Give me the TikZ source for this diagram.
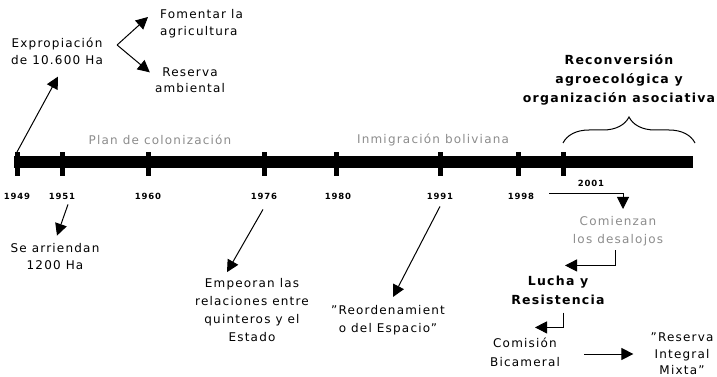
\documentclass[tikz,border=0pt]{standalone}
\usepackage{fontspec}
\setmainfont{DejaVu Sans}[LetterSpace=10]
\usetikzlibrary{arrows.meta,decorations.pathreplacing}

\begin{document}
\begin{tikzpicture}[x=1pt,y=-1pt,
    >={Triangle[length=12pt,width=12pt]},
    txt/.style={align=center,inner sep=0pt,font=\fontsize{12}{18}\selectfont},
    negr/.style={txt,font=\fontsize{12.5}{19}\selectfont\bfseries},
    gris/.style={txt,text=black!45},
    anio/.style={inner sep=0pt,font=\fontsize{8.5}{8.5}\selectfont\bfseries},
    flecha/.style={->,line width=1pt}]
    \useasboundingbox (0,0) rectangle (717,377);
    % linea de tiempo
    \draw[line width=12pt] (14,162)--(693,162);
    \foreach \x/\a in {17/1949,62/1951,148/1960,264/1976,336/1980,440/1991,518/1998,563/2001}
    \draw[line width=5pt] (\x,152) coordinate (t\a)--(\x,176);
    \foreach \x/\a in {17/1949,62/1951,148/1960,264/1976,338/1980,440/1991,521/1998}
    \node[anio] (y\a) at (\x,196) {\a};
    \node[anio] (y2001) at (591,183) {2001};
    \draw[decorate,decoration={brace,amplitude=26pt},line width=1pt] (563,143)--(695,143);

    \node[gris] (plan) at (160,140) {Plan de colonización};
    \node[gris] (inmig) at (433,140) {Inmigración boliviana};
    \node[negr] (recon) at (619,80) {Reconversión\\agroecológica y\\organización asociativa};

    \node[txt,font=\fontsize{12}{17}\selectfont] (expro) at (57,51) {Expropiación\\de 10.600 Ha};
    \node[txt,font=\fontsize{12}{17}\selectfont,align=left,anchor=west] (fomen) at (160,24) {Fomentar la\\agricultura};
    \node[txt,font=\fontsize{12}{16}\selectfont] (ramb) at (190,80) {Reserva\\ambiental};
    \node[txt,font=\fontsize{12}{17}\selectfont] (arrien) at (55,257) {Se arriendan\\1200 Ha};
    \node[txt] (empeo) at (252,310) {Empeoran las\\relaciones entre\\quinteros y el\\Estado};
    \node[txt] (reord) at (388,320) {"Reordenamient\\o del Espacio"};
    \node[gris] (desal) at (618,231) {Comienzan\\los desalojos};
    \node[negr] (lucha) at (558,290) {Lucha y\\Resistencia};
    \node[txt,font=\fontsize{12}{19}\selectfont] (comis) at (525,352) {Comisión\\Bicameral};
    \node[txt,font=\fontsize{12}{16.5}\selectfont] (rmixta) at (682,354) {"Reserva\\Integral\\Mixta"};

    \draw[flecha] (t1949)--([xshift=1pt,yshift=-12pt]expro.south);
    \draw[flecha] ([xshift=14pt,yshift=6pt]expro.east)--([shift={(-12pt,7pt)}]fomen.west);
    \draw[flecha] ([xshift=14pt,yshift=6pt]expro.east)--([shift={(-5pt,-5pt)}]ramb.north west);
    \draw[flecha] ([shift={(6pt,-5pt)}]y1951.south)--([shift={(2pt,8pt)}]arrien.north);
    \draw[flecha] ([shift={(-1pt,-10pt)}]y1976.south)--([shift={(-25pt,6pt)}]empeo.north);
    \draw[flecha] ([yshift=-7pt]y1991.south)--([shift={(5pt,8pt)}]reord.north);
    \draw[flecha] ([shift={(15pt,3pt)}]y1998.east)-|([shift={(5pt,7pt)}]desal.north);
    \draw[flecha] ([shift={(-3pt,-4pt)}]desal.south)|-([shift={(7pt,10pt)}]lucha.north);
    \draw[flecha] ([shift={(5pt,-8pt)}]lucha.south)|-([shift={(10pt,10pt)}]comis.north);
    \draw[flecha,shorten <=24pt,shorten >=17pt] (comis.east|-rmixta)--(rmixta.west|-rmixta);
\end{tikzpicture}
\end{document}
